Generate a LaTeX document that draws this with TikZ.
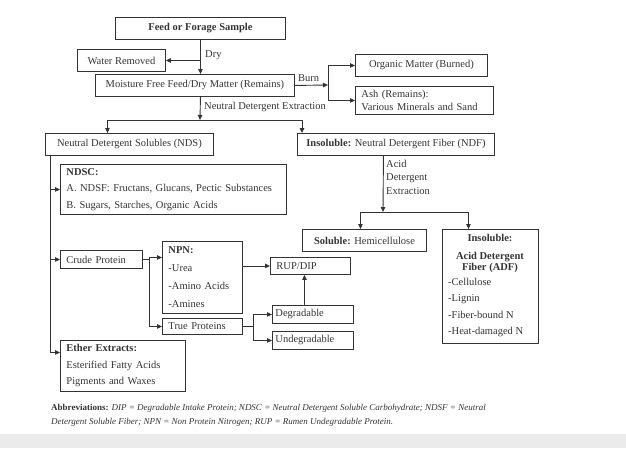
\documentclass[tikz,border=0pt]{standalone}
\usepackage{fontspec}
\setmainfont{Liberation Serif}
\usetikzlibrary{arrows.meta}
\usetikzlibrary{positioning}

\definecolor{ink}{HTML}{333333}
\definecolor{band}{HTML}{EBEBEB}

\tikzset{
  box/.style={draw=ink, line width=0.9pt, rectangle, inner sep=0pt, anchor=north west,
              text=ink, font=\fontsize{10.5}{12}\selectfont},
  lbox/.style={box, align=left, inner xsep=6pt},
  tag/.style={text=ink, inner sep=0pt, font=\fontsize{10.5}{12}\selectfont},
  arr/.style={draw=ink, line width=0.9pt, arrows=-{Triangle[length=5pt,width=4.5pt]}},
}

\begin{document}
\begin{tikzpicture}[x=1pt,y=-1pt]

            %\draw [help lines] (0,0) grid (626,448);
            \useasboundingbox (0,0) rectangle (626,448);
            \fill[band] (0,434) rectangle (626,448);

            \path   (115,17)  node (feed)    [box, minimum width=170, minimum height=22] {\textbf{Feed or Forage Sample}}
                    (77,49)   node (water)   [box, minimum width=88, minimum height=22] {Water Removed}
                    (95,74)   node (moist)   [box, minimum width=199, minimum height=22] {Moisture Free Feed/Dry Matter (Remains)}
                    (355,54)  node (organic) [box, minimum width=132, minimum height=22] {Organic Matter (Burned)}
                    (355,86)  node (ash)     [lbox, text width=126, minimum height=28, font=\fontsize{10.5}{13.5}\selectfont] {Ash (Remains):\\Various Minerals and Sand}
                    (45,133)  node (nds)     [box, minimum width=168, minimum height=22] {Neutral Detergent Solubles (NDS)}
                    (297,133) node (ndf)     [box, minimum width=197, minimum height=22] {\textbf{Insoluble:} Neutral Detergent Fiber (NDF)};

            \path   (60,164)  node (ndsc)  [lbox, text width=214, minimum height=50, font=\fontsize{10.5}{16.5}\selectfont]
                                           {\textbf{NDSC:}\\A. NDSF: Fructans, Glucans, Pectic Substances\\B. Sugars, Starches, Organic Acids}
                    (60,250)  node (cp)    [lbox, text width=70, minimum height=18] {Crude Protein}
                    (162,241) node (npn)   [lbox, text width=68, minimum height=72, font=\fontsize{10.5}{18}\selectfont]
                                           {\textbf{NPN:}\\-Urea\\-Amino Acids\\-Amines}
                    (270,257) node (rup)   [lbox, text width=68, minimum height=17] {RUP/DIP}
                    (162,318) node (tp)    [lbox, text width=68, minimum height=16] {True Proteins}
                    (272,305) node (deg)   [lbox, inner xsep=3pt, text width=75, minimum height=18] {Degradable}
                    (272,331) node (und)   [lbox, inner xsep=3pt, text width=75, minimum height=18] {Undegradable}
                    (60,340)  node (ether) [lbox, text width=113, minimum height=51, font=\fontsize{10.5}{16.5}\selectfont]
                                           {\textbf{Ether Extracts:}\\Esterified Fatty Acids\\Pigments and Waxes};

            \path   (302,229) node (sol) [box, minimum width=124, minimum height=22] {\textbf{Soluble:} Hemicellulose}
                    (442,229) node (adf) [box, minimum width=96, minimum height=114] {};
            \node (adfhead) [tag] at (490,238) {\textbf{Insoluble:}};
            \node (adfname) [tag, align=center, font=\fontsize{10.5}{11}\selectfont] at (490,262) {\textbf{Acid Detergent}\\\textbf{Fiber (ADF)}};
            \node (adflist) [tag, anchor=north west, align=left, font=\fontsize{10.5}{16.3}\selectfont] at (448,278)
                            {-Cellulose\\-Lignin\\-Fiber-bound N\\-Heat-damaged N};

            % labels on the arrows
            \node (drytag)  [tag, anchor=west] at (205,55)  {Dry};
            \node (burntag) [tag, anchor=west] at (298,78)  {Burn};
            \node (ndetag)  [tag, anchor=west] at (204,107) {Neutral Detergent Extraction};
            \node (adetag)  [tag, anchor=north west, align=left, font=\fontsize{10.5}{13.5}\selectfont] at (386,160)
                            {Acid\\Detergent\\Extraction};

            \coordinate (burnj) at (328,85);
            \coordinate (ndej)  at (200,120);
            \coordinate (adej)  at (383,212);

            \draw[arr] (feed) -- (feed |- moist.north);
            \draw[arr] (feed.south |- water.east) -- (water.east);
            \draw[arr] (moist.east) -- (burnj);
            \draw[arr] (burnj) |- (organic.west);
            \draw[arr] (burnj) |- (ash.west);
            \draw[arr] (moist.south -| feed) -- (ndej);
            \draw[ink, line width=0.9pt] ([xshift=-22pt]nds.north |- ndej) -- ([xshift=5pt]ndf.north west |- ndej);
            \draw[arr] ([xshift=-22pt]nds.north |- ndej) -- ([xshift=-22pt]nds.north);
            \draw[arr] ([xshift=5pt]ndf.north west |- ndej) -- ([xshift=5pt]ndf.north west);

            \draw[arr] ([xshift=5pt]nds.south west) |- (ndsc.west);
            \draw[arr] ([xshift=5pt]nds.south west) |- (cp.west);
            \draw[arr] ([xshift=5pt]nds.south west) |- ([yshift=13.5pt]ether.west);

            \draw[arr] (cp.east) -- ++(7,0) |- ([yshift=20pt]npn.west);
            \draw[arr] (cp.east) -- ++(7,0) |- (tp.west);
            \draw[arr] (npn.east |- rup.west) -- (rup.west);
            \draw[arr] (tp.east) -- ++(11,0) |- (deg.west);
            \draw[arr] (tp.east) -- ++(11,0) |- (und.west);
            \draw[arr] ([xshift=-8.5pt]deg.north) -- ([xshift=-8.5pt]deg.north |- rup.south);

            \draw[arr] ([xshift=-12.5pt]ndf.south) -- (adej);
            \draw[ink, line width=0.9pt] ([xshift=-4pt]sol.north |- adej) -- ([xshift=-22pt]adf.north |- adej);
            \draw[arr] ([xshift=-4pt]sol.north |- adej) -- ([xshift=-4pt]sol.north);
            \draw[arr] ([xshift=-22pt]adf.north |- adej) -- ([xshift=-22pt]adf.north);

            \node (abbrev) [tag, anchor=north west, align=left, font=\fontsize{9}{14}\selectfont] at (51,404)
                {\textbf{Abbreviations:} \textit{DIP = Degradable Intake Protein; NDSC = Neutral Detergent Soluble Carbohydrate; NDSF = Neutral}\\
                 \textit{Detergent Soluble Fiber; NPN = Non Protein Nitrogen; RUP = Rumen Undegradable Protein.}};

        \end{tikzpicture}
\end{document}
